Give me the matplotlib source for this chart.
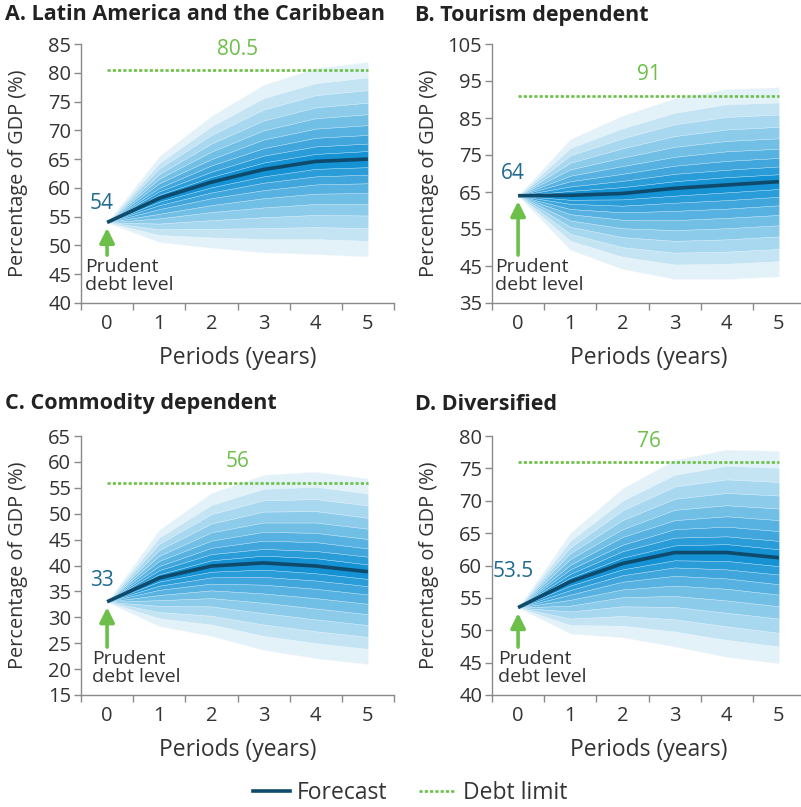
import matplotlib.pyplot as plt

plt.rcParams['font.family'] = ['Open Sans', 'DejaVu Sans']

# datos -------------------------------------------------------------
periods = [0, 1, 2, 3, 4, 5]
titles = ['A. Latin America and the Caribbean', 'B. Tourism dependent',
          'C. Commodity dependent', 'D. Diversified']
debt_limit = [80.5, 91, 56, 76]
start_labels = ['54', '64', '33', '53.5']
y_ticks = [list(range(40, 90, 5)), list(range(35, 115, 10)),
           list(range(15, 70, 5)), list(range(40, 85, 5))]

# forecast (mediana)
a_median = [54, 58.2, 61.0, 63.2, 64.6, 65.0]
b_median = [64, 64.1, 64.6, 66.0, 66.9, 67.8]
c_median = [33, 37.6, 39.9, 40.5, 39.9, 38.8]
d_median = [53.5, 57.5, 60.3, 62.0, 62.0, 61.2]

# bordes das bandas (de dentro para fora), valores em x = 1..5
a_upper = [[58.8, 61.9, 64.4, 65.9, 66.4], [59.4, 62.8, 65.6, 67.2, 67.7],
           [60.0, 63.9, 66.9, 68.7, 69.2], [60.8, 65.0, 68.4, 70.3, 70.9],
           [61.6, 66.3, 70.0, 72.1, 72.8], [62.4, 67.7, 71.7, 74.0, 74.8],
           [63.4, 69.2, 73.6, 76.1, 77.0], [64.3, 70.7, 75.6, 78.2, 79.2],
           [65.5, 72.5, 77.9, 80.8, 81.9]]
a_lower = [[57.6, 60.1, 62.0, 63.3, 63.6], [57.0, 59.2, 60.9, 62.0, 62.3],
           [56.3, 58.2, 59.6, 60.6, 60.8], [55.5, 57.0, 58.2, 59.0, 59.1],
           [54.7, 55.8, 56.6, 57.2, 57.2], [53.8, 54.4, 54.9, 55.3, 55.2],
           [52.8, 52.9, 53.0, 53.2, 53.0], [51.8, 51.4, 51.1, 51.1, 50.8],
           [50.6, 49.6, 48.8, 48.5, 48.1]]

b_upper = [[65.3, 66.3, 67.9, 69.0, 69.8], [66.5, 68.0, 69.9, 71.0, 71.9],
           [67.9, 69.9, 72.1, 73.4, 74.2], [69.4, 72.0, 74.5, 76.0, 76.7],
           [71.1, 74.3, 77.2, 78.8, 79.5], [72.9, 76.8, 80.1, 81.9, 82.6],
           [74.9, 79.5, 83.3, 85.3, 85.9], [76.9, 82.2, 86.4, 88.7, 89.2],
           [79.3, 85.6, 90.3, 92.8, 93.3]]
b_lower = [[62.9, 63.0, 64.0, 64.9, 65.8], [61.8, 61.3, 62.1, 62.8, 63.7],
           [60.4, 59.5, 59.9, 60.5, 61.4], [59.0, 57.5, 57.4, 58.0, 58.8],
           [57.3, 55.2, 54.7, 55.2, 56.0], [55.6, 52.8, 51.8, 52.2, 53.0],
           [53.7, 50.1, 48.6, 48.9, 49.6], [51.8, 47.5, 45.4, 45.6, 46.3],
           [49.4, 44.2, 41.5, 41.5, 42.2]]

c_upper = [[38.3, 41.0, 41.9, 41.4, 40.2], [39.1, 42.2, 43.2, 42.8, 41.7],
           [39.9, 43.4, 44.8, 44.5, 43.3], [40.9, 44.8, 46.5, 46.3, 45.1],
           [41.9, 46.4, 48.3, 48.3, 47.1], [43.0, 48.1, 50.4, 50.5, 49.2],
           [44.2, 49.9, 52.6, 52.8, 51.6], [45.4, 51.7, 54.8, 55.2, 53.9],
           [46.9, 54.0, 57.5, 58.1, 56.8]]
c_lower = [[36.9, 38.8, 39.2, 38.5, 37.4], [36.1, 37.7, 37.8, 37.1, 36.0],
           [35.3, 36.5, 36.3, 35.5, 34.4], [34.3, 35.2, 34.6, 33.7, 32.6],
           [33.3, 33.7, 32.8, 31.7, 30.6], [32.2, 32.1, 30.8, 29.6, 28.5],
           [31.0, 30.3, 28.6, 27.3, 26.2], [29.8, 28.6, 26.4, 25.0, 23.9],
           [28.3, 26.4, 23.7, 22.1, 21.0]]

d_upper = [[58.1, 61.2, 63.1, 63.3, 62.5], [58.7, 62.2, 64.3, 64.5, 63.8],
           [59.4, 63.2, 65.6, 66.0, 65.3], [60.1, 64.4, 67.0, 67.6, 67.0],
           [61.0, 65.6, 68.6, 69.3, 68.8], [61.9, 67.0, 70.3, 71.2, 70.8],
           [62.8, 68.5, 72.2, 73.3, 72.9], [63.8, 70.0, 74.0, 75.4, 75.1],
           [65.0, 71.9, 76.3, 77.9, 77.7]]
d_lower = [[56.9, 59.4, 60.8, 60.7, 59.9], [56.2, 58.5, 59.7, 59.4, 58.6],
           [55.5, 57.5, 58.4, 58.0, 57.1], [54.7, 56.3, 56.9, 56.4, 55.5],
           [53.8, 55.1, 55.3, 54.6, 53.7], [52.9, 53.7, 53.6, 52.7, 51.8],
           [51.8, 52.2, 51.7, 50.6, 49.6], [50.8, 50.7, 49.8, 48.5, 47.5],
           [49.5, 48.9, 47.5, 45.9, 44.9]]

medians = [a_median, b_median, c_median, d_median]
uppers = [a_upper, b_upper, c_upper, d_upper]
lowers = [a_lower, b_lower, c_lower, d_lower]

# estilo --------------------------------------------------------------
band_colors = ['#1592d4', '#2a9cd8', '#40a6dc', '#58b2e1', '#72bfe6',
               '#8ccbea', '#a8d8f0', '#c4e4f4', '#e3f1f9']
navy = '#0d4a6b'
green = '#6cc04a'
label_blue = '#1f6a90'
text_gray = '#333333'
spine_gray = '#8a8a8a'

fig = plt.figure(figsize=(8.01, 8.07), dpi=100)
W, H = 801, 807

# posições dos painéis em pixels (esquerda, topo)
panel_pos = [(81, 44), (492, 44), (81, 436), (492, 436)]
panel_w, panel_h = 313, 259
title_pos = [(5, 15), (415, 15), (5, 404), (415, 404)]
start_offset = [19, 22, 21, 36]
prudent_x = [-0.42, -0.44, -0.29, -0.38]

for i in range(4):
    left, top = panel_pos[i]
    ax = fig.add_axes([left / W, 1 - (top + panel_h) / H, panel_w / W, panel_h / H])
    m = medians[i]

    # bandas, de fora para dentro
    for k in range(8, -1, -1):
        up = [m[0]] + uppers[i][k]
        lo = [m[0]] + lowers[i][k]
        ax.fill_between(periods, lo, up, color=band_colors[k], lw=0.3,
                        edgecolor='#f2f9fd', zorder=1)

    ax.plot(periods, m, color=navy, lw=2.6, zorder=3, solid_capstyle='butt')
    ax.plot([0, 5], [debt_limit[i]] * 2, color=green, lw=1.9,
            linestyle=(0, (1.2, 0.8)), zorder=3)

    ax.annotate(str(debt_limit[i]), xy=(2.5, debt_limit[i]), xytext=(0, 15),
                textcoords='offset points', ha='center', va='center',
                color=green, fontsize=15)
    ax.annotate(start_labels[i], xy=(-0.1, m[0]), xytext=(0, start_offset[i] * 0.72),
                textcoords='offset points', ha='center', va='center',
                color=label_blue, fontsize=15)

    # seta "Prudent debt level"
    ax.annotate('', xy=(0, m[0]), xytext=(0, 0.185), xycoords='data',
                textcoords=('data', 'axes fraction'),
                arrowprops=dict(arrowstyle='-|>', color=green, lw=2.6,
                                mutation_scale=22, shrinkA=0, shrinkB=4))
    ax.text(prudent_x[i], 0.172, 'Prudent\ndebt level', transform=ax.get_xaxis_transform(),
            ha='left', va='top', fontsize=14, color=text_gray, linespacing=1.0)

    ax.set_xlim(-0.5, 5.5)
    ax.set_ylim(y_ticks[i][0], y_ticks[i][-1])
    ax.set_yticks(y_ticks[i])
    ax.set_xticks([x - 0.5 for x in range(7)])
    ax.set_xticklabels([])
    ax.set_xticks(periods, minor=True)
    ax.set_xticklabels([str(p) for p in periods], minor=True)
    ax.tick_params(axis='x', which='major', length=5, color=spine_gray, width=1)
    ax.tick_params(axis='x', which='minor', length=0, pad=8, labelsize=14.5,
                   labelcolor=text_gray)
    ax.tick_params(axis='y', length=5, color=spine_gray, width=1, pad=2,
                   labelsize=14.5, labelcolor=text_gray)
    for s in ['top', 'right']:
        ax.spines[s].set_visible(False)
    for s in ['left', 'bottom']:
        ax.spines[s].set_color(spine_gray)
        ax.spines[s].set_linewidth(1)
    ax.set_facecolor('none')

    # títulos e rótulos dos eixos
    tx, ty = title_pos[i]
    fig.text(tx / W, 1 - ty / H, titles[i], ha='left', va='center',
             fontsize=15.5, fontweight='bold', color='#222222')
    fig.text((left - 63) / W, 1 - (top + panel_h / 2) / H, 'Percentage of GDP (%)',
             rotation=90, ha='center', va='center', fontsize=14.3, color=text_gray)
    fig.text((left + 157) / W, 1 - (top + 314) / H, 'Periods (years)',
             ha='center', va='center', fontsize=16.5, color=text_gray)

# legenda
h1, = plt.plot([], [], color=navy, lw=2.6)
h2, = plt.plot([], [], color=green, lw=1.9, linestyle=(0, (1.2, 0.8)))
fig.legend([h1, h2], ['Forecast', 'Debt limit'], loc='center',
           bbox_to_anchor=(0.512, 1 - 793 / H), ncol=2, frameon=False,
           fontsize=16.5, handlelength=1.6, handletextpad=0.3, columnspacing=1.4,
           labelcolor=text_gray)

fig.savefig('out.png', dpi=100)
